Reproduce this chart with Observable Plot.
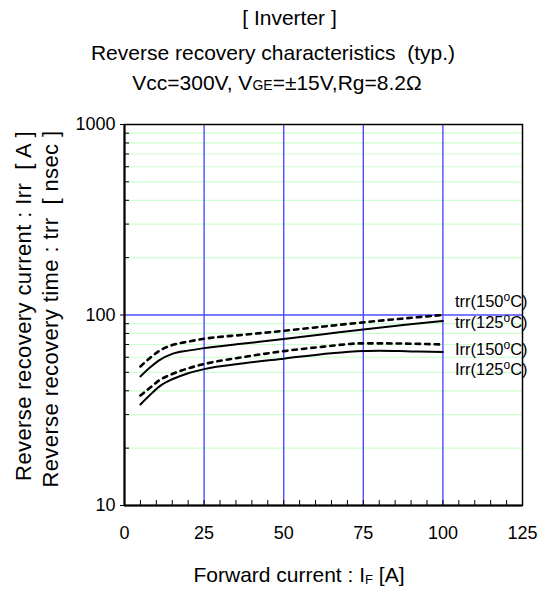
<!DOCTYPE html>
<html>
<head>
<meta charset="utf-8">
<script src="https://cdn.jsdelivr.net/npm/d3@7"></script>
<script src="https://cdn.jsdelivr.net/npm/@observablehq/plot@0.6"></script>
<style>
  html, body { margin: 0; padding: 0; background: #fff; }
  svg { font-family: "Liberation Sans", Arial, sans-serif; }
</style>
</head>
<body>
<div id="chart"></div>
<script>
// Forward current IF [A]
const ifTrr125 = [5, 8, 11, 15, 20, 25, 37.5, 50, 62.5, 75, 87.5, 100];
const trr125   = [47.6, 53, 58, 62.5, 65, 67, 70.8, 74.8, 79.2, 84, 88.5, 93];
const ifTrr150 = [5, 8, 11, 15, 20, 25, 37.5, 50, 62.5, 75, 87.5, 100];
const trr150   = [53.7, 59.5, 65, 69.5, 72.5, 75, 78.8, 82.6, 87, 91.5, 95.8, 100];
const ifIrr150 = [5, 8, 11, 15, 20, 25, 37.5, 50, 62.5, 75, 87.5, 100];
const irr150   = [37.8, 41.5, 45.5, 49, 52.5, 55.3, 60.2, 64.6, 68.2, 71, 70.8, 70];
const ifIrr125 = [5, 8, 11, 15, 20, 25, 37.5, 50, 65, 75, 80, 90, 100];
const irr125   = [33.9, 38, 42.2, 46, 49.5, 52, 55.8, 59, 63, 64.7, 65, 64.4, 63.9];

const seriesNames = ["trr(150", "trr(125", "Irr(150", "Irr(125"];
const labelY = [117, 91, 65.8, 51.8];

const xTicks = [0, 25, 50, 75, 100, 125];
const xMinor = d3.range(5, 125, 5);
const yTicks = [10, 100, 1000];
const yMinor = [20, 30, 40, 50, 60, 70, 80, 90, 200, 300, 400, 500, 600, 700, 800, 900];
const blueX = [25, 50, 75, 100];
const blueY = [100];

const titleLines = ["[ Inverter ]", "Reverse recovery characteristics  (typ.)"];
const yTitle1 = "Reverse recovery current : Irr  [ A ]";
const yTitle2 = "Reverse recovery time : trr  [ nsec ]";

const mk = (xs, ys, name) => xs.map((x, i) => ({x, y: ys[i], name}));
const solid = [...mk(ifTrr125, trr125, "trr125"), ...mk(ifIrr125, irr125, "irr125")];
const dashedA = mk(ifTrr150, trr150, "trr150");
const dashedB = mk(ifIrr150, irr150, "irr150");
const labels = seriesNames.map((n, i) => ({name: n, y: labelY[i]}));

const W = 541, H = 592;
const chart = Plot.plot({
  width: W, height: H,
  marginLeft: 124, marginRight: 19, marginTop: 124, marginBottom: 87,
  style: {fontFamily: '"Liberation Sans", Arial, sans-serif', background: "#fff"},
  x: {type: "linear", domain: [0, 125], label: null, axis: null},
  y: {type: "log", domain: [10, 1000], label: null, axis: null},
  marks: [
    Plot.ruleY(yMinor, {stroke: "#ccffcc", strokeWidth: 1.2}),
    Plot.ruleX(blueX, {stroke: "#4d4dff", strokeWidth: 1.4}),
    Plot.ruleY(blueY, {stroke: "#4d4dff", strokeWidth: 1.4}),
    Plot.frame({stroke: "#000", strokeWidth: 1.5}),
    Plot.axisY({ticks: yTicks, tickSize: 4, tickFormat: d => String(d), fontSize: 18, tickPadding: 5, label: null, color: "#000"}),
    Plot.axisY({ticks: yMinor, tickSize: -5, tickFormat: () => "", label: null}),
    Plot.axisX({ticks: xTicks, tickSize: 0, tickPadding: 21, fontSize: 18, label: null}),
    Plot.axisX({ticks: xMinor, tickSize: -5, tickFormat: () => "", label: null}),
    Plot.ruleY([10], {stroke: "#000", strokeWidth: 2}),
    Plot.ruleX([0], {stroke: "#000", strokeWidth: 2}),
    Plot.line(solid, {x: "x", y: "y", z: "name", stroke: "#000", strokeWidth: 2, curve: "monotone-x"}),
    Plot.line(dashedA, {x: "x", y: "y", stroke: "#000", strokeWidth: 2.6, strokeDasharray: "4.5,5", curve: "monotone-x"}),
    Plot.line(dashedB, {x: "x", y: "y", stroke: "#000", strokeWidth: 2.6, strokeDasharray: "4.5,5", curve: "monotone-x"}),
    Plot.text(labels, {x: 100, y: "y", text: "name", dx: 12, textAnchor: "start", fontSize: 16.5, fill: "#000", className: "serieslabel"})
  ]
});

const svg = d3.select(chart);
svg.attr("font-family", '"Liberation Sans", Arial, sans-serif');
// Add °C superscript to series labels
svg.selectAll(".serieslabel text").each(function() {
  const t = d3.select(this);
  const txt = t.text();
  t.text(txt);
  t.append("tspan").attr("font-size", 12).attr("dy", "-6").text("o");
  t.append("tspan").attr("dy", "6").text("C)");
});

// Titles
const g = svg.append("g").attr("fill", "#000").attr("text-anchor", "middle").attr("font-size", 21);
g.append("text").attr("x", 289.5).attr("y", 25).text(titleLines[0]);
g.append("text").attr("x", 273).attr("y", 60).text(titleLines[1]);
const t3 = g.append("text").attr("x", 277).attr("y", 90);
t3.append("tspan").text("Vcc=300V, V");
t3.append("tspan").attr("font-size", 14).text("GE");
t3.append("tspan").text("=\u00b115V,Rg=8.2\u03a9");

// Y titles
const yt = svg.append("g").attr("fill", "#000").attr("text-anchor", "middle").attr("font-size", 22).attr("letter-spacing", 0.4);
yt.append("text").attr("transform", "translate(30.5,306) rotate(-90)").text(yTitle1);
yt.append("text").attr("transform", "translate(57.5,309) rotate(-90)").text(yTitle2);

// X title
const xt = svg.append("text").attr("fill", "#000").attr("text-anchor", "middle").attr("font-size", 21)
  .attr("x", 299).attr("y", 582);
xt.append("tspan").text("Forward current : I");
xt.append("tspan").attr("font-size", 13).attr("dy", "2").text("F");
xt.append("tspan").attr("dy", "-2").text(" [A]");

document.getElementById("chart").appendChild(chart);
</script>
</body>
</html>
